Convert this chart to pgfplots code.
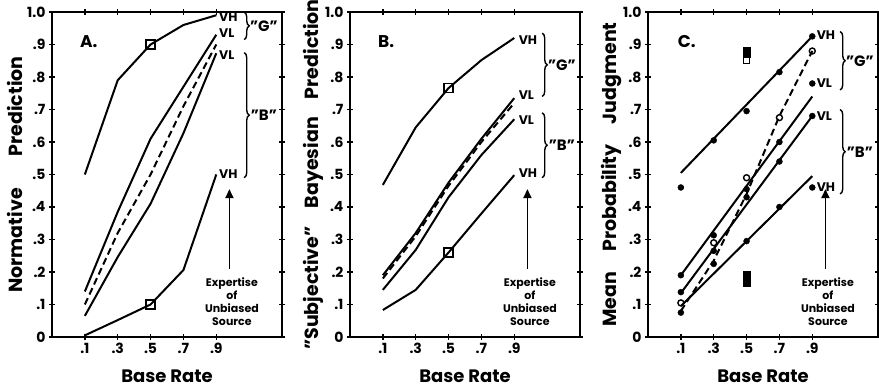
\documentclass[border=0pt]{standalone}
\usepackage{fontspec}
\setmainfont{Poppins}
\usepackage{pgfplots}
\pgfplotsset{compat=1.18}
\usetikzlibrary{decorations.pathreplacing,arrows.meta}

\pgfplotsset{
 panel/.style={
  scale only axis, width=230pt, height=325pt,
  xmin=-0.1, xmax=1.3, ymin=0, ymax=1.0,
  clip=false,
  xtick={0.1,0.3,0.5,0.7,0.9}, xticklabels={.1,.3,.5,.7,.9},
  ytick={0,0.1,0.2,0.3,0.4,0.5,0.6,0.7,0.8,0.9,1.0},
  yticklabels={0,.1,.2,.3,.4,.5,.6,.7,.8,.9,1.0},
  tick align=center, major tick length=6pt,
  tick style={line width=1.3pt,black},
  axis line style={line width=1.8pt},
  /pgf/number format/assume math mode=true,
  ticklabel style={font=\bfseries\fontsize{14}{14}\selectfont},
  xlabel={Base Rate},
  xlabel style={font=\bfseries\fontsize{18}{18}\selectfont, at={(axis description cs:0.5,-0.12)}, anchor=center},
  ylabel style={font=\bfseries\fontsize{19}{19}\selectfont, at={(axis description cs:-0.16,0.5)}, anchor=center},
 },
 ln/.style={black, line width=2pt, no marks},
 dl/.style={black, line width=2pt, no marks, dash pattern=on 7pt off 4pt},
 sq/.style={black, only marks, mark=square, mark size=4.5pt, mark options={line width=1.6pt}},
}
\newcommand{\lab}{\bfseries\fontsize{12.5}{12.5}\selectfont}
\newcommand{\exper}[1]{%
  \draw[line width=1.8pt, -{Triangle[length=9pt,width=8pt]}] (axis cs:#1,0.21) -- (axis cs:#1,0.455);
  \node[align=center, font=\bfseries\fontsize{11}{13}\selectfont] at (axis cs:#1+0.015,0.108) {Expertise\\of\\Unbiased\\Source};
}
\newcommand{\brc}[3]{\draw[line width=1.4pt, decorate, decoration={brace, amplitude=5pt}] (axis cs:1.07,#1) -- (axis cs:1.07,#2);
  \node[font=\bfseries\fontsize{15}{15}\selectfont] at (axis cs:1.19,{(#1+#2)/2}) {#3};}

\begin{document}
\begin{tikzpicture}
\useasboundingbox (0,0) rectangle (879pt,390pt);
% ---------------- Panel A
\begin{axis}[panel, at={(52pt,53pt)}, anchor=south west,
  ylabel={Normative\hspace{32pt}Prediction}]
\addplot[ln] coordinates {(0.1,0.50)(0.3,0.79)(0.5,0.90)(0.7,0.96)(0.9,0.99)};
\addplot[ln] coordinates {(0.1,0.14)(0.3,0.385)(0.5,0.61)(0.7,0.77)(0.9,0.93)};
\addplot[dl] coordinates {(0.1,0.10)(0.3,0.32)(0.5,0.50)(0.7,0.71)(0.9,0.90)};
\addplot[ln] coordinates {(0.1,0.065)(0.3,0.246)(0.5,0.41)(0.7,0.627)(0.9,0.873)};
\addplot[ln] coordinates {(0.1,0.005)(0.3,0.052)(0.5,0.10)(0.7,0.206)(0.9,0.50)};
\addplot[sq] coordinates {(0.5,0.90)(0.5,0.10)};
\node[anchor=west,inner sep=1pt,font=\lab] at (axis cs:0.91,0.985) {VH};
\node[anchor=west,inner sep=1pt,font=\lab] at (axis cs:0.91,0.935) {VL};
\node[anchor=west,inner sep=1pt,font=\lab] at (axis cs:0.91,0.867) {VL};
\node[anchor=west,inner sep=1pt,font=\lab] at (axis cs:0.91,0.50) {VH};
\brc{1.0}{0.915}{"G"}
\brc{0.875}{0.49}{"B"}
\exper{0.98}
\node[anchor=west,font=\bfseries\fontsize{17}{17}\selectfont] at (axis cs:0.05,0.91) {A.};
\end{axis}
% ---------------- Panel B
\begin{axis}[panel, at={(350pt,53pt)}, anchor=south west,
  ylabel={"Subjective"\hspace{18pt}Bayesian\hspace{18pt}Prediction}]
\addplot[ln] coordinates {(0.1,0.468)(0.3,0.645)(0.5,0.766)(0.7,0.852)(0.9,0.92)};
\addplot[ln] coordinates {(0.1,0.19)(0.3,0.32)(0.5,0.475)(0.7,0.61)(0.9,0.735)};
\addplot[dl] coordinates {(0.1,0.18)(0.3,0.31)(0.5,0.465)(0.7,0.60)(0.9,0.72)};
\addplot[ln] coordinates {(0.1,0.145)(0.3,0.268)(0.5,0.43)(0.7,0.56)(0.9,0.67)};
\addplot[ln] coordinates {(0.1,0.083)(0.3,0.145)(0.5,0.26)(0.7,0.38)(0.9,0.498)};
\addplot[sq] coordinates {(0.5,0.766)(0.5,0.26)};
\node[anchor=west,inner sep=1pt,font=\lab] at (axis cs:0.92,0.915) {VH};
\node[anchor=west,inner sep=1pt,font=\lab] at (axis cs:0.92,0.745) {VL};
\node[anchor=west,inner sep=1pt,font=\lab] at (axis cs:0.92,0.668) {VL};
\node[anchor=west,inner sep=1pt,font=\lab] at (axis cs:0.92,0.505) {VH};
\brc{0.935}{0.74}{"G"}
\brc{0.69}{0.49}{"B"}
\exper{0.98}
\node[anchor=west,font=\bfseries\fontsize{17}{17}\selectfont] at (axis cs:0.05,0.91) {B.};
\end{axis}
% ---------------- Panel C
\begin{axis}[panel, at={(648pt,53pt)}, anchor=south west,
  ylabel={Mean\hspace{20pt}Probability\hspace{20pt}Judgment}]
% fitted lines
\addplot[ln] coordinates {(0.1,0.505)(0.9,0.925)};
\addplot[ln] coordinates {(0.1,0.19)(0.9,0.74)};
\addplot[ln] coordinates {(0.1,0.135)(0.9,0.68)};
\addplot[ln] coordinates {(0.1,0.095)(0.9,0.495)};
\addplot[dl] coordinates {(0.1,0.08)(0.3,0.235)(0.5,0.44)(0.7,0.68)(0.9,0.88)};
% data points
\addplot[black, only marks, mark=*, mark size=3pt] coordinates {(0.1,0.46)(0.3,0.605)(0.5,0.695)(0.7,0.815)(0.9,0.925)};
\addplot[black, only marks, mark=*, mark size=3pt] coordinates {(0.1,0.19)(0.3,0.313)(0.5,0.455)(0.7,0.60)(0.9,0.78)};
\addplot[black, only marks, mark=*, mark size=3pt] coordinates {(0.1,0.138)(0.3,0.265)(0.5,0.43)(0.7,0.54)(0.9,0.68)};
\addplot[black, only marks, mark=*, mark size=3pt] coordinates {(0.1,0.075)(0.3,0.225)(0.5,0.295)(0.7,0.40)(0.9,0.46)};
\addplot[black, only marks, mark=o, mark size=3pt, mark options={fill=white,line width=1.4pt}] coordinates {(0.1,0.105)(0.3,0.29)(0.5,0.49)(0.7,0.675)(0.9,0.88)};
\addplot[black, only marks, mark=square*, mark size=3.6pt] coordinates {(0.5,0.88)(0.5,0.873)(0.5,0.19)(0.5,0.168)};
\addplot[black, only marks, mark=square, mark size=3.2pt, mark options={fill=white,line width=1.4pt}] coordinates {(0.5,0.852)};
\node[anchor=west,inner sep=1pt,font=\lab] at (axis cs:0.92,0.93) {VH};
\node[anchor=west,inner sep=1pt,font=\lab] at (axis cs:0.92,0.78) {VL};
\node[anchor=west,inner sep=1pt,font=\lab] at (axis cs:0.92,0.68) {VL};
\node[anchor=west,inner sep=1pt,font=\lab] at (axis cs:0.92,0.46) {VH};
\brc{0.94}{0.76}{"G"}
\brc{0.70}{0.44}{"B"}
\exper{0.98}
\node[anchor=west,font=\bfseries\fontsize{17}{17}\selectfont] at (axis cs:0.06,0.91) {C.};
\end{axis}
\end{tikzpicture}
\end{document}
